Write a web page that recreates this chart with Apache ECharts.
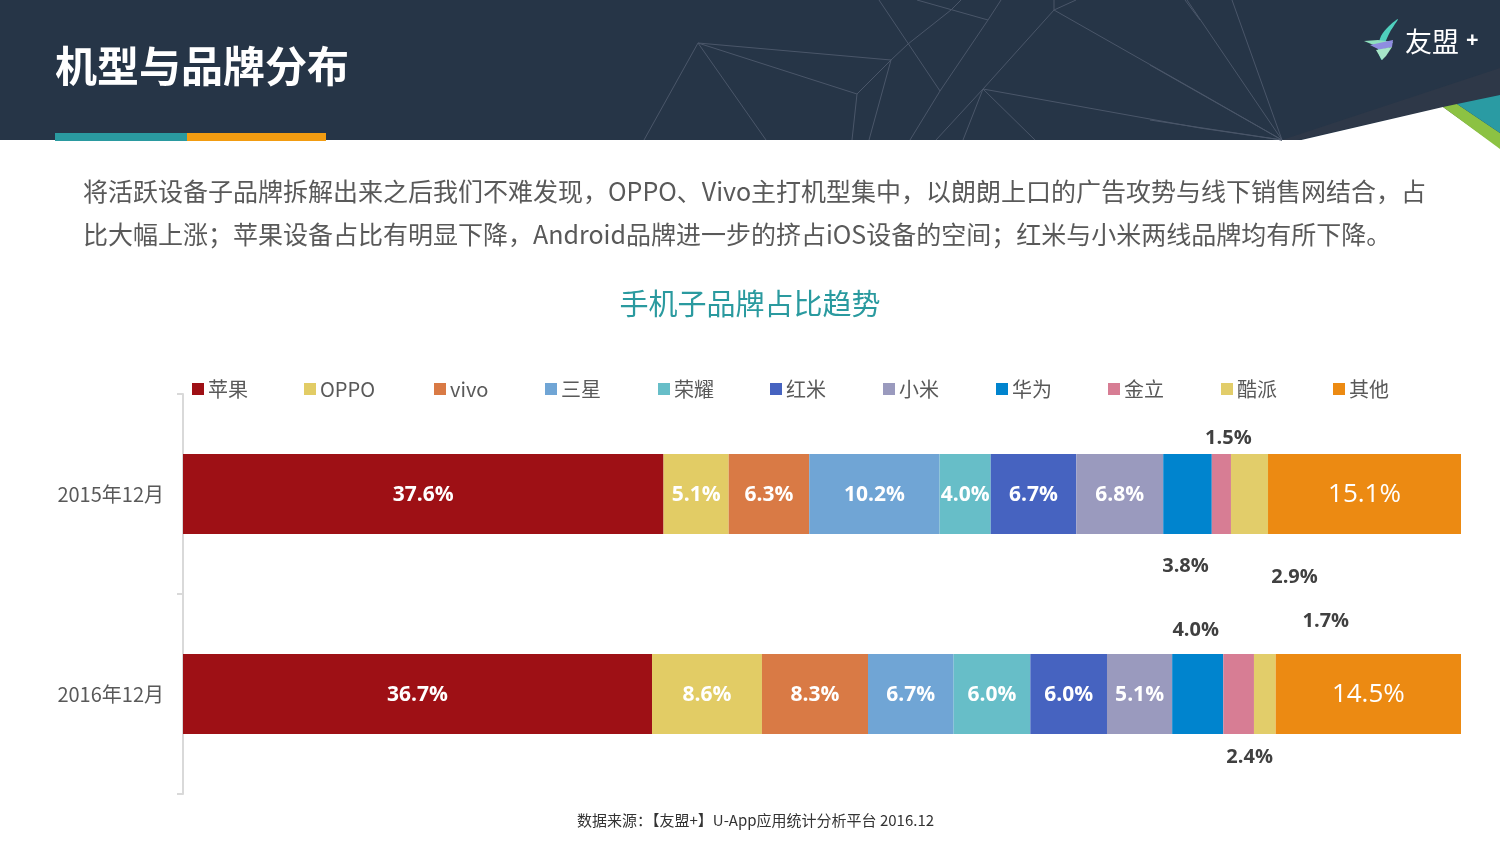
<!DOCTYPE html>
<html>
<head>
<meta charset="utf-8">
<script src="https://cdn.jsdelivr.net/npm/echarts@6/dist/echarts.min.js"></script>
<style>
html,body{margin:0;padding:0;background:#fff;}
#chart{width:1500px;height:844px;}
</style>
</head>
<body>
<div id="chart"></div>
<script>
const categories = ['2015年12月', '2016年12月'];
const brands = ['苹果', 'OPPO', 'vivo', '三星', '荣耀', '红米', '小米', '华为', '金立', '酷派', '其他'];
const share2015 = [37.6, 5.1, 6.3, 10.2, 4.0, 6.7, 6.8, 3.8, 1.5, 2.9, 15.1];
const share2016 = [36.7, 8.6, 8.3, 6.7, 6.0, 6.0, 5.1, 4.0, 2.4, 1.7, 14.5];
const brandColors = ['#9E1015', '#E2CC65', '#D97A45', '#70A5D5', '#67BEC8', '#4663C0', '#9A9ABE', '#0084CE', '#D77D94', '#E2CD6A', '#EC8A12'];
const legendLeft = [192, 304, 434, 545, 658, 770, 883, 996, 1108, 1221, 1333];

// placement of labels that sit outside the bar: [brandIndex][categoryIndex]
const outsideLabels = {
  '7-0': {position: 'bottom', distance: 22, offset: [-2, 0]},
  '8-0': {position: 'top', distance: 6, offset: [7, 0]},
  '9-0': {position: 'bottom', distance: 33, offset: [45, 0]},
  '7-1': {position: 'top', distance: 14, offset: [-2, 0]},
  '8-1': {position: 'bottom', distance: 13, offset: [11, 0]},
  '9-1': {position: 'top', distance: 23, offset: [61, 0]}
};

const numFont = '"Open Sans", "Noto Sans CJK SC", sans-serif';
const cjkFont = '"Noto Sans CJK SC", "Microsoft YaHei", sans-serif';

const series = brands.map((name, i) => {
  const vals = [share2015[i], share2016[i]];
  return {
    name: name,
    type: 'bar',
    stack: 'total',
    barWidth: 80,
    itemStyle: {color: brandColors[i]},
    label: {
      show: true,
      position: 'inside',
      offset: [0, 1],
      color: '#fff',
      fontFamily: numFont,
      fontWeight: i === 10 ? 'normal' : 'bold',
      fontSize: i === 10 ? 26 : 21,
      formatter: p => p.value.toFixed(1) + '%'
    },
    data: vals.map((v, c) => {
      const o = outsideLabels[i + '-' + c];
      if (o) {
        return {value: v, label: {show: true, position: o.position, distance: o.distance, offset: o.offset,
          color: '#404040', fontWeight: 'bold', fontSize: 20, fontFamily: numFont}};
      }
      return {value: v};
    })
  };
});

const legends = brands.map((name, i) => ({
  data: [name],
  left: legendLeft[i],
  top: 379,
  padding: 0,
  itemWidth: 12,
  itemHeight: 12,
  itemGap: 0,
  icon: 'rect',
  textStyle: {color: '#595959', fontSize: 20, fontFamily: cjkFont, padding: [0, 0, 0, -1]}
}));

const lineStyle = {stroke: '#4a5669', lineWidth: 1, fill: null};
const lineSegs = [
  [[698, 43], [644, 140]],
  [[698, 43], [766, 140]],
  [[698, 43], [891, 60]],
  [[698, 43], [857, 94]],
  [[852, 140], [857, 94], [891, 60], [908, 44], [951, 10], [961, 0]],
  [[891, 60], [869, 140]],
  [[879, 0], [940, 91]],
  [[1001, 0], [988, 20], [940, 91], [910, 140]],
  [[917, 0], [988, 20]],
  [[1054, 0], [1054, 10], [1076, 0]],
  [[1054, 10], [983, 89], [936, 140]],
  [[1054, 10], [1200, 93], [1282, 140]],
  [[983, 89], [963, 140]],
  [[983, 89], [1035, 140]],
  [[983, 89], [1200, 128], [1282, 140]],
  [[1185, 0], [1200, 20]],
  [[1187, 0], [1282, 140]],
  [[1232, 0], [1282, 140]],
  [[1150, 65], [1282, 140]],
  [[1150, 120], [1282, 140]]
];

const graphics = [
  {type: 'rect', shape: {x: 0, y: 0, width: 1500, height: 140}, style: {fill: '#263547'}, z: 0},
  {type: 'polygon', shape: {points: [[1282, 140], [1500, 68], [1500, 95], [1443, 107], [1297, 140]]}, style: {fill: '#2e3848'}, z: 1},
  {type: 'polygon', shape: {points: [[1297, 141], [1443, 107], [1500, 148], [1500, 141]]}, style: {fill: '#ffffff'}, z: 1},
  {type: 'polygon', shape: {points: [[1443, 107], [1457, 104], [1500, 133], [1500, 149]]}, style: {fill: '#8cc243'}, z: 2},
  {type: 'polygon', shape: {points: [[1457, 104], [1500, 95], [1500, 133]]}, style: {fill: '#2a9ba3'}, z: 2},
  {type: 'rect', shape: {x: 55, y: 133, width: 132, height: 8}, style: {fill: '#2a9aa0'}, z: 2},
  {type: 'rect', shape: {x: 187, y: 133, width: 139, height: 8}, style: {fill: '#f29c11'}, z: 2},
  {type: 'text', left: 55, top: 45, style: {text: '机型与品牌分布', fill: '#ffffff', font: 'bold 42px "Noto Sans CJK SC", sans-serif'}, z: 3},
  // logo
  {type: 'polygon', shape: {points: [[1398, 19], [1390, 32], [1384, 46], [1382, 60], [1378, 50], [1381, 36], [1389, 26]], smooth: 0.3}, style: {fill: '#4fd0be'}, z: 3},
  {type: 'polygon', shape: {points: [[1364, 41], [1378, 40], [1393, 42], [1388, 48], [1376, 46]]}, style: {fill: '#8fe0bf'}, z: 4},
  {type: 'polygon', shape: {points: [[1370, 45], [1393, 40], [1392, 47], [1380, 50]]}, style: {fill: '#8f8de0'}, z: 5},
  {type: 'polygon', shape: {points: [[1376, 50], [1392, 47], [1386, 56], [1382, 60]]}, style: {fill: '#a7e6c8'}, z: 5},
  {type: 'text', left: 1405, top: 28, style: {text: '友盟', fill: '#ffffff', font: '27px "Noto Sans CJK SC", sans-serif'}, z: 3},
  {type: 'text', left: 1466, top: 30, style: {text: '+', fill: '#ffffff', font: 'bold 22px "Noto Sans", sans-serif'}, z: 3},
  // paragraph
  {type: 'text', left: 83, top: 179, style: {text: '将活跃设备子品牌拆解出来之后我们不难发现，OPPO、Vivo主打机型集中，以朗朗上口的广告攻势与线下销售网结合，占', fill: '#595959', font: '25px "Noto Sans CJK SC", sans-serif'}},
  {type: 'text', left: 83, top: 222, style: {text: '比大幅上涨；苹果设备占比有明显下降，Android品牌进一步的挤占iOS设备的空间；红米与小米两线品牌均有所下降。', fill: '#595959', font: '25px "Noto Sans CJK SC", sans-serif'}},
  // chart title
  {type: 'text', left: 'center', top: 289, style: {text: '手机子品牌占比趋势', fill: '#2a9a9f', font: '29px "Noto Sans CJK SC", sans-serif', align: 'center'}},
  // source
  {type: 'text', left: 577, top: 813, style: {text: '数据来源：【友盟+】U-App应用统计分析平台 2016.12', fill: '#333333', font: '15px "Noto Sans CJK SC", sans-serif'}}
];
lineSegs.forEach(pts => graphics.push({type: 'polyline', shape: {points: pts}, style: lineStyle, z: 1}));

const chart = echarts.init(document.getElementById('chart'));
chart.setOption({
  animation: false,
  backgroundColor: '#ffffff',
  legend: legends,
  grid: {left: 183, right: 39, top: 394, bottom: 50, containLabel: false},
  xAxis: {type: 'value', min: 0, max: 100, show: false},
  yAxis: {
    type: 'category',
    data: categories,
    inverse: true,
    axisLine: {lineStyle: {color: '#d9d9d9', width: 2}},
    axisTick: {show: true, length: 6, lineStyle: {color: '#d9d9d9', width: 2}},
    axisLabel: {color: '#595959', fontSize: 20, margin: 19, fontFamily: cjkFont}
  },
  series: series,
  graphic: graphics
});
</script>
</body>
</html>
